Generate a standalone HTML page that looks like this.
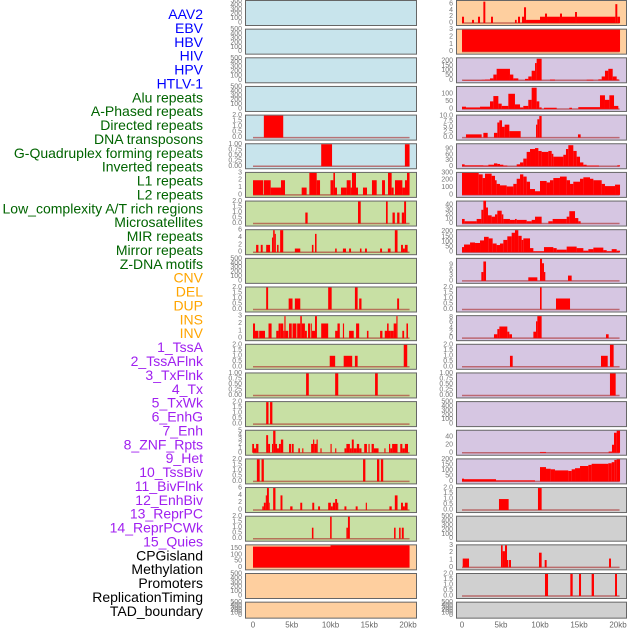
<!DOCTYPE html>
<html><head><meta charset="utf-8"><style>
html,body{margin:0;padding:0;background:#fff;width:630px;height:630px;overflow:hidden}
svg text{font-family:"Liberation Sans",sans-serif}
</style></head><body>
<svg id="chart" width="630" height="630" viewBox="0 0 630 630" xmlns="http://www.w3.org/2000/svg"></svg>
<script>
const trackLabels=["AAV2","EBV","HBV","HIV","HPV","HTLV-1","Alu repeats","A-Phased repeats","Directed repeats","DNA transposons","G-Quadruplex forming repeats","Inverted repeats","L1 repeats","L2 repeats","Low_complexity A/T rich regions","Microsatellites","MIR repeats","Mirror repeats","Z-DNA motifs","CNV","DEL","DUP","INS","INV","1_TssA","2_TssAFlnk","3_TxFlnk","4_Tx","5_TxWk","6_EnhG","7_Enh","8_ZNF_Rpts","9_Het","10_TssBiv","11_BivFlnk","12_EnhBiv","13_ReprPC","14_ReprPCWk","15_Quies","CPGisland","Methylation","Promoters","ReplicationTiming","TAD_boundary"];
const labelGroups=[6,13,5,15,5];
const xTickLabels=["0","5kb","10kb","15kb","20kb"];
const xTickValues=[0,5,10,15,20];
const ticksEmpty=[0,100,200,300,400,500];
const ticks2=[0,0.5,1,1.5,2];
const ticks1=[0,0.25,0.5,0.75,1];
// left column segments [startKb,endKb,value]
const segL5=[[1.4,3.9,2]];
const segL6=[[8.8,10.2,1],[19.6,20.2,1]];
const segL7=[[0,1.33,2],[1.42,2.28,2],[2.28,3.61,1],[3.61,4.13,2],[6.28,6.92,1],[7.27,8.22,3],[8.22,8.65,2],[10,10.37,2],[10.37,10.58,3],[10.58,10.84,1],[11.35,12.09,1],[12.09,12.6,2],[12.6,12.77,1],[12.77,13.29,3],[13.29,13.55,1],[14.19,14.71,1],[15.35,15.96,2],[16.65,17.03,2],[17.42,17.89,3],[17.89,18.15,1],[18.32,19.27,2],[19.27,19.61,1],[19.61,19.87,2],[19.87,20.2,3]];
const segL8=[[6.75,7.05,1],[13.55,13.9,2],[17.16,17.38,2],[18,18.3,1],[18.6,18.9,1],[19.2,19.5,1],[19.5,19.75,2]];
const segL9=[[0.4,0.7,2],[1,1.25,2],[1.7,2.2,2],[2.45,2.6,4],[2.6,2.8,6],[2.8,2.95,5],[3.1,3.3,2],[3.5,3.9,6],[5.4,6.1,1],[7.6,7.8,2],[8,8.2,5],[10.6,10.8,1],[11.6,12,1],[12.4,12.65,1],[13.8,14,1],[14.45,14.7,1],[16.4,16.65,1],[17.4,17.75,1],[18.3,18.65,6],[19.1,19.35,2],[19.35,19.6,1],[19.6,19.95,2]];
const segL11=[[1.7,1.95,2],[4.6,5.1,1],[5.4,6.1,1],[9.7,10.15,2],[13.15,13.5,2],[13.7,14,1],[18.6,18.85,1]];
const segL12=[[0,0.26,2],[0.26,0.7,1],[0.8,1.55,1],[2,2.4,2],[3,3.3,1],[3.3,3.5,2],[3.5,3.9,2],[3.9,4.05,1],[4.05,4.2,3],[4.2,4.55,1],[4.65,5,2],[5.1,5.6,2],[5.7,6.1,2],[6.1,6.3,3],[6.3,6.7,2],[6.7,6.95,1],[7.1,7.4,2],[7.5,7.6,2],[7.6,8,1],[8,8.25,3],[8.8,9.7,2],[10.6,10.9,1],[10.9,11.2,2],[11.6,11.75,2],[12.4,13,1],[13.3,13.7,2],[14.7,14.9,1],[16.4,16.7,1],[17,17.7,1],[17.3,17.5,2],[17.7,18.15,1],[18.15,18.5,2],[18.5,18.65,3],[19.27,19.5,1],[19.8,20,2]];
const segL13=[[9.9,10.6,1],[11.7,12.8,1],[13.15,13.5,1],[19.45,19.9,2]];
const segL14=[[6.85,7.2,1],[10.6,11,1],[15.75,16.1,1]];
const segL15=[[1.7,2,2],[2.2,2.5,2]];
const segL16=[[-0.1,0.13,2],[0.13,0.4,1],[0.4,0.7,2],[1.7,1.95,4],[1.95,2.2,2],[2.45,2.6,2],[2.6,2.9,5],[2.9,3.1,2],[3.1,3.35,1],[3.35,3.6,2],[3.6,3.9,3],[4.65,4.9,2],[5,5.25,2],[5.85,6.05,1],[6.35,6.5,1],[7.5,7.75,2],[7.75,7.9,3],[7.9,8.2,2],[8.2,8.35,3],[8.7,8.85,1],[10,10.15,2],[10.6,10.75,1],[11.8,12.05,1],[12.05,12.5,2],[12.5,12.75,1],[12.75,13,3],[13,13.4,1],[13.4,13.7,2],[13.7,14,1],[14.35,14.7,2],[14.9,15.05,2],[15.3,15.6,2],[15.6,16.2,1],[16.95,17.1,1],[17.55,17.7,2],[17.7,17.95,1],[17.95,18.65,2],[19,19.27,2],[19.27,19.6,1],[19.6,20,2]];
const segL17=[[0.5,0.86,2],[1.1,1.4,2],[14.2,14.5,2],[16,16.3,2],[16.5,16.8,2]];
const segL18=[[1.2,1.4,1],[1.4,1.65,2],[1.65,1.8,4],[1.8,2.05,6],[2.05,2.15,2],[2.6,2.9,6],[3.55,3.8,4],[4.8,5.1,1],[6.1,6.35,2],[7.65,7.9,2],[8.4,8.65,1],[9.7,10.05,2],[10.05,10.3,1],[10.3,10.6,2],[10.6,10.85,3],[10.85,11,2],[11.8,12.05,1],[13.25,13.5,1],[14.55,14.7,2],[17.6,17.9,1],[18.3,18.65,4],[19.1,19.35,2],[19.35,19.6,1],[19.6,19.95,2]];
const segL19=[[7.6,7.8,1],[9.95,10.15,2],[12.05,12.25,1],[12.25,12.5,2],[18.2,18.4,1],[18.85,19.05,1],[19.2,19.45,1]];
const segL20=[[0,10,165],[10,20.2,175]];
// right column segments
const segR1=[[0,0.26,2],[1.28,1.54,1],[2.05,2.31,2],[2.74,2.99,6.8],[3.72,3.97,2],[6.79,7.01,1],[7.18,7.44,2],[7.69,7.95,2],[7.95,8.21,5],[8.21,10,1],[10,10.64,2],[10.64,10.9,3],[10.9,12.56,2],[12.56,12.82,3],[12.82,14.49,2],[14.49,14.74,3.5],[14.74,19.66,2],[19.66,19.91,6],[19.91,20.26,2]];
const segR2=[[0,20.26,3]];
const segR3=[[0.17,2.52,3],[2.52,2.95,5],[2.95,3.59,8],[3.59,4.02,20],[4.02,4.44,60],[4.44,6.15,120],[6.15,6.58,60],[6.58,7.22,20],[8.08,8.5,15],[8.5,8.93,40],[8.93,9.36,100],[9.36,9.57,180],[9.57,10.21,225],[11.28,11.92,8],[15.98,16.84,6],[17.48,17.91,10],[17.91,18.33,40],[18.33,18.76,100],[18.76,19.32,120],[19.32,19.83,40],[19.83,20.09,10]];
const segR4=[[0,0.51,15],[0.51,2.31,10],[2.31,3.59,15],[3.59,4.02,50],[4.02,4.66,85],[4.66,5.09,35],[5.09,5.94,20],[5.94,6.79,100],[6.79,7.44,30],[7.44,7.86,10],[7.86,8.5,20],[8.5,8.93,60],[8.93,9.57,140],[9.57,9.91,50],[9.91,10.21,10],[10.51,12.14,8],[13.76,14.1,8],[14.91,17.69,12],[17.69,18.33,90],[18.33,18.89,60],[18.89,19.49,90],[19.49,20.04,20]];
const segR5=[[0.51,2.52,1.5],[2.74,3.29,2.2],[4.1,4.53,2.2],[4.53,4.79,7],[4.79,5.13,8],[5.13,5.47,5],[5.47,6.07,6],[6.07,7.52,3],[9.49,9.66,6],[9.66,9.91,8.5],[9.91,10.21,10],[14.87,15.21,1.5]];
const segR6=[[0,0.34,10],[0.34,2.74,5],[2.74,3.38,4],[3.38,4.1,8],[4.1,4.53,15],[4.53,4.87,12],[4.87,5.3,8],[5.3,5.81,4],[7.01,7.44,10],[7.44,7.86,20],[7.86,8.29,40],[8.29,8.72,75],[8.72,9.36,90],[9.36,9.79,95],[9.79,10.21,80],[10.21,11.07,75],[11.07,11.5,80],[11.5,11.71,65],[11.71,12.99,50],[12.99,13.33,60],[13.33,13.63,90],[13.63,14.27,110],[14.27,14.7,80],[14.7,15.13,50],[15.13,15.56,20],[15.56,15.98,8],[15.98,17.56,4],[19.91,20.26,5]];
const segR7=[[0,2.14,300],[2.14,2.65,280],[2.65,2.95,230],[2.95,3.8,290],[3.8,4.23,260],[4.23,4.44,200],[4.44,4.87,150],[4.87,5.73,130],[5.73,6.58,115],[6.58,7.01,150],[7.01,7.44,220],[7.44,7.86,280],[7.86,8.29,250],[8.29,8.72,180],[8.72,9.36,80],[9.36,10,50],[10,10.85,190],[10.85,11.28,170],[11.28,11.71,200],[11.71,12.56,230],[12.56,13.42,250],[13.42,13.85,200],[13.85,14.27,150],[14.27,15.13,180],[15.13,15.56,220],[15.56,16.41,240],[16.41,16.84,220],[16.84,17.91,200],[17.91,18.33,150],[18.33,19.62,120],[19.62,20.26,140]];
const segR8=[[0,0.34,10],[0.34,1.88,5],[1.88,2.48,10],[2.48,2.74,30],[2.74,3.08,50],[3.08,3.33,35],[3.33,3.8,18],[3.8,4.23,15],[4.23,4.53,20],[4.53,5.09,28],[5.09,5.3,20],[5.3,6.15,10],[6.15,6.79,8],[6.79,7.01,10],[7.01,8.29,8],[8.29,8.93,5],[8.93,9.36,8],[9.36,10.21,15],[11.07,11.62,5],[11.62,13.42,10],[13.42,13.76,15],[13.76,14.49,27],[14.49,14.91,12],[14.91,15.21,5]];
const segR9=[[0,0.26,50],[0.26,1.03,75],[1.03,1.67,95],[1.67,2.31,90],[2.31,2.82,115],[2.82,3.42,150],[3.42,3.93,135],[3.93,4.44,85],[4.44,4.87,70],[4.87,5.3,85],[5.3,5.81,120],[5.81,6.37,155],[6.37,6.79,190],[6.79,7.22,215],[7.22,7.65,160],[7.65,7.86,120],[7.86,8.72,135],[8.72,9.15,40],[9.15,10.51,10],[10.51,11.71,50],[11.71,12.14,40],[12.14,13.42,25],[13.42,14.7,55],[14.7,15.56,40],[15.56,16.2,15],[16.2,16.84,30],[16.84,18.12,45],[18.12,18.55,20],[18.55,19.19,10],[19.19,19.83,30],[19.83,20.26,15]];
const segR10=[[2.48,2.74,5],[2.74,3.08,11],[8.5,9.66,2],[10,10.26,12.5],[10.26,10.51,10],[10.51,10.68,5],[13.59,14.06,3]];
const segR11=[[10,10.21,2],[12.05,13.85,1]];
const segR12=[[4.1,4.53,1.5],[4.53,4.79,3.5],[4.79,5.81,4.5],[5.81,6.07,2.5],[6.07,6.41,1.5],[9.15,9.49,2.5],[9.49,9.66,6.5],[9.66,10.21,8.5],[18.46,18.8,1.5]];
const segR13=[[6.15,6.5,1],[17.82,18.68,1],[18.97,19.44,2]];
const segR14=[[18.97,19.7,1]];
const segR16=[[10,10.77,2],[18.8,19.23,3],[19.23,19.49,20],[19.49,19.83,50],[19.83,20.26,55]];
const segR17=[[0,0.26,25],[0.26,4.36,20],[4.36,9.36,10],[10,10.77,130],[10.77,11.37,115],[11.37,11.92,110],[11.92,13.63,100],[13.63,14.06,95],[14.06,14.49,110],[14.49,15.13,120],[15.13,16.2,140],[16.2,16.62,150],[16.62,18.76,160],[18.76,19.19,165],[19.19,19.53,175],[19.53,19.83,195],[19.83,20.26,200]];
const segR18=[[4.74,5.98,1],[9.74,10.21,2]];
const segR20=[[0.09,0.9,1.2],[5,5.21,3],[5.21,5.51,2.2],[5.51,5.77,3],[5.77,5.94,1],[6.03,6.28,1],[9.87,10.21,2],[10.6,10.85,1],[18.85,19.1,1.2]];
const segR21=[[10.64,11.03,2],[13.89,14.19,2],[15,15.26,2],[16.62,16.92,2],[19.62,19.87,2]];

// panel config: [segments, domainMax, ticks, fill]
const B="#c8e4ec",G="#c8e0a4",O="#fecf9f",P="#d6c6e2",Y="#d0d0d0";
const leftPanels=[[null,500,ticksEmpty,B],[null,500,ticksEmpty,B],[null,500,ticksEmpty,B],[null,500,ticksEmpty,B],[segL5,2,ticks2,B],[segL6,1,ticks1,B],
[segL7,3,[0,1,2,3],G],[segL8,2,ticks2,G],[segL9,6,[0,2,4,6],G],[null,500,ticksEmpty,G],[segL11,2,ticks2,G],[segL12,3,[0,1,2,3],G],[segL13,2,ticks2,G],[segL14,1,ticks1,G],[segL15,2,ticks2,G],[segL16,5,[0,1,2,3,4,5],G],[segL17,2,ticks2,G],[segL18,6,[0,2,4,6],G],[segL19,2,ticks2,G],
[segL20,175,[0,50,100,150],O],[null,500,ticksEmpty,O],[null,500,ticksEmpty,O]];
const rightPanels=[[segR1,7,[0,2,4,6],O],[segR2,3,[0,1,2,3],O],
[segR3,230,[0,50,100,150,200],P],[segR4,145,[0,50,100],P],[segR5,10.2,[0,2.5,5,7.5,10],P],[segR6,115,[0,30,60,90],P],[segR7,300,[0,100,200,300],P],[segR8,48,[0,10,20,30,40],P],[segR9,215,[0,50,100,150,200],P],[segR10,12.5,[0,3,6,9],P],[segR11,2,ticks2,P],[segR12,8.5,[0,2,4,6,8],P],[segR13,2,ticks2,P],[segR14,1,ticks1,P],[null,500,ticksEmpty,P],[segR16,55,[0,20,40],P],[segR17,200,[0,50,100,150,200],P],
[segR18,2,ticks2,Y],[null,500,ticksEmpty,Y],[segR20,3,[0,1,2,3],Y],[segR21,2,ticks2,Y],[null,500,ticksEmpty,Y]];

const NS="http://www.w3.org/2000/svg";
const svg=document.getElementById('chart');
function mk(tag,attrs,parent){const e=document.createElementNS(NS,tag);for(const k in attrs)e.setAttribute(k,attrs[k]);(parent||svg).appendChild(e);return e;}
const groupColors=["#0000ff","#006400","#ffa500","#a020f0","#000000"];
// labels
let idx=0;
labelGroups.forEach((n,g)=>{for(let i=0;i<n;i++){const t=mk('text',{x:203,y:14+idx*13.88,'text-anchor':'end','dominant-baseline':'central','font-size':14,fill:groupColors[g]});


t.textContent=trackLabels[idx];idx++;}});
const cols=[{x0:245,w:171,ox:253,k:7.75,panels:leftPanels,name:'left'},{x0:456,w:170,ox:462,k:7.8,panels:rightPanels,name:'right'}];
function fmt(v,tk){const dec=tk.some(t=>t%1!==0)?(tk.some(t=>(t*10)%1!==0)?2:1):0;return v.toFixed(dec);}
cols.forEach(c=>{
  const xs=kb=>c.ox+kb*c.k;
  c.panels.forEach((p,r)=>{
    const top=r*28.65, H=(r===21)?16:25;
    const [seg,max,tk,fill]=p;
    const ys=v=>top+H-2-v/max*(H-3);
    const g=mk('g',{});
    
    
    mk('rect',{x:c.x0+0.5,y:top+0.5,width:c.w,height:H,fill:fill,stroke:'#666','stroke-width':1},g);
    tk.forEach(t=>{const tx=mk('text',{x:c.x0-3,y:ys(t),'text-anchor':'end','dominant-baseline':'central','font-size':7,fill:'#777'},g);
      
      
      tx.textContent=fmt(t,tk);});
    if(seg){
      mk('line',{x1:xs(0),x2:xs(20.2),y1:ys(0),y2:ys(0),stroke:'rgba(170,40,40,0.6)','stroke-width':1.5},g);
      seg.forEach(s=>{const y=ys(s[2]);const b=mk('rect',{x:xs(s[0]),y:y,width:Math.max(0.8,xs(s[1])-xs(s[0])),height:Math.max(0,ys(0)-y),fill:'#ff0000'},g);
        
        });
    }
  });
  xTickValues.forEach((v,i)=>{const t=mk('text',{x:xs(v),y:625,'text-anchor':'middle','dominant-baseline':'central','font-size':8,fill:'#666'});
    
    
    t.textContent=xTickLabels[i];});
});
</script>
</body></html>
